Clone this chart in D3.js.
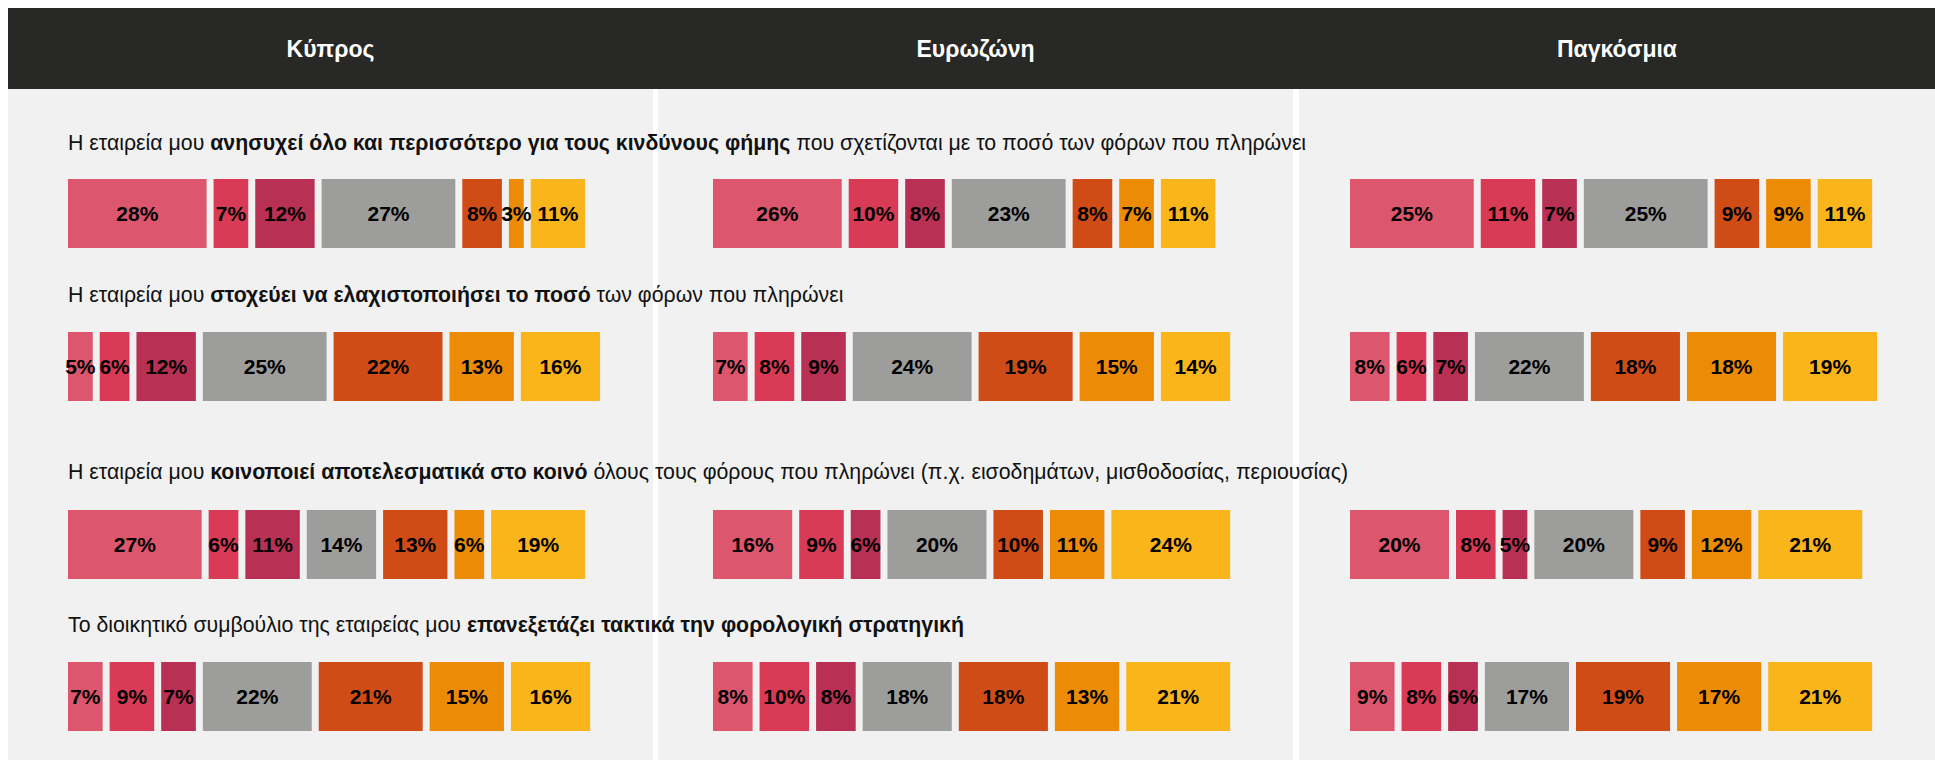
<!DOCTYPE html>
<html>
<head>
<meta charset="utf-8">
<script src="https://cdn.jsdelivr.net/npm/d3@7"></script>
<style>
  html, body { margin: 0; padding: 0; background: #ffffff; }
  svg { display: block; font-family: "Liberation Sans", Arial, sans-serif; }
</style>
</head>
<body>
<svg id="chart" width="1935" height="760"></svg>
<script>
// ---------- data ----------
const regions = ["Κύπρος", "Ευρωζώνη", "Παγκόσμια"];

const statementPre  = ["Η εταιρεία μου ", "Η εταιρεία μου ", "Η εταιρεία μου ", "Το διοικητικό συμβούλιο της εταιρείας μου "];
const statementBold = ["ανησυχεί όλο και περισσότερο για τους κινδύνους φήμης", "στοχεύει να ελαχιστοποιήσει το ποσό", "κοινοποιεί αποτελεσματικά στο κοινό", "επανεξετάζει τακτικά την φορολογική στρατηγική"];
const statementPost = [" που σχετίζονται με το ποσό των φόρων που πληρώνει", " των φόρων που πληρώνει", " όλους τους φόρους που πληρώνει (π.χ. εισοδημάτων, μισθοδοσίας, περιουσίας)", ""];

// values (%) per statement, 7 answer levels each
const cyprus   = [[28, 7, 12, 27, 8, 3, 11], [5, 6, 12, 25, 22, 13, 16], [27, 6, 11, 14, 13, 6, 19], [7, 9, 7, 22, 21, 15, 16]];
const eurozone = [[26, 10, 8, 23, 8, 7, 11], [7, 8, 9, 24, 19, 15, 14], [16, 9, 6, 20, 10, 11, 24], [8, 10, 8, 18, 18, 13, 21]];
const globalV  = [[25, 11, 7, 25, 9, 9, 11], [8, 6, 7, 22, 18, 18, 19], [20, 8, 5, 20, 9, 12, 21], [9, 8, 6, 17, 19, 17, 21]];

const levels = [0, 1, 2, 3, 4, 5, 6];
const levelColors = ["#dc566d", "#d93a56", "#b83054", "#9d9d9b", "#cf4c17", "#ec8b05", "#f9b51a"];

// ---------- layout ----------
const W = 1935, H = 760;
const headerTop = 8, headerBottom = 89;
const colBounds = [[8, 653], [658, 1293], [1299, 1935]];
const barStart = [68, 713, 1350];
const rowTitleBaseline = [150, 302, 479, 632];
const rowBarTop = [179, 332, 510, 662];
const barH = 69, gap = 7;
const titleX = 68;

const svg = d3.select("#chart");
const dataByRegion = [cyprus, eurozone, globalV];

const color = d3.scaleOrdinal().domain(levels).range(levelColors);
const w = d3.scaleLinear().domain([0, 100]).range([0, 495]);

// panels
svg.selectAll("rect.panel").data(colBounds).join("rect")
  .attr("class", "panel")
  .attr("x", d => d[0]).attr("y", headerBottom)
  .attr("width", d => d[1] - d[0]).attr("height", H - headerBottom)
  .attr("fill", "#f1f1f1");

// header
svg.append("rect").attr("x", 8).attr("y", headerTop).attr("width", W - 8).attr("height", headerBottom - headerTop).attr("fill", "#282826");
svg.selectAll("text.region").data(regions).join("text")
  .attr("class", "region")
  .attr("x", (d, i) => (colBounds[i][0] + colBounds[i][1]) / 2)
  .attr("y", 57)
  .attr("text-anchor", "middle")
  .attr("fill", "#ffffff")
  .attr("font-weight", "bold")
  .attr("font-size", "23px")
  .text(d => d);

// bars
dataByRegion.forEach((rows, ci) => {
  rows.forEach((vals, ri) => {
    let acc = 0;
    const items = vals.map((v, i) => {
      const x = barStart[ci] + acc + i * gap;
      acc += w(v);
      return { v, i, x, width: w(v) };
    });
    const g = svg.append("g").attr("transform", `translate(0,${rowBarTop[ri]})`);
    g.selectAll("rect").data(items).join("rect")
      .attr("x", d => d.x).attr("y", 0)
      .attr("width", d => d.width).attr("height", barH)
      .attr("fill", d => color(d.i));
    g.selectAll("text").data(items).join("text")
      .attr("x", d => d.x + d.width / 2)
      .attr("y", barH / 2)
      .attr("dy", "0.36em")
      .attr("text-anchor", "middle")
      .attr("font-weight", "bold")
      .attr("font-size", "21px")
      .attr("fill", "#000")
      .text(d => d.v + "%");
  });
});

// statement titles
statementPre.forEach((pre, i) => {
  const t = svg.append("text")
    .attr("x", titleX).attr("y", rowTitleBaseline[i])
    .attr("font-size", "21.3px").attr("fill", "#111");
  t.append("tspan").text(pre);
  t.append("tspan").attr("font-weight", "bold").text(statementBold[i]);
  if (statementPost[i]) t.append("tspan").text(statementPost[i]);
});
</script>
</body>
</html>
